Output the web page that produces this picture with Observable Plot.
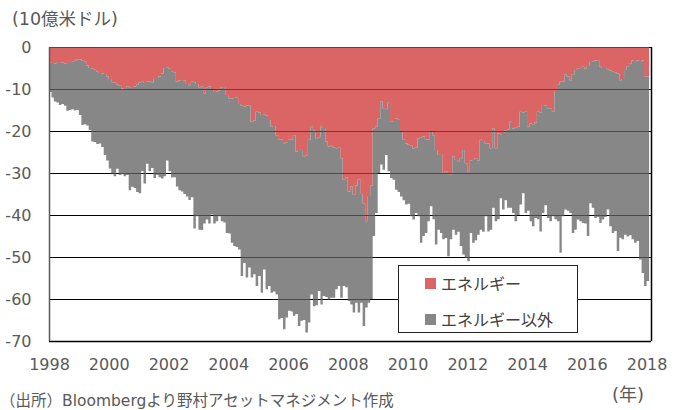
<!DOCTYPE html>
<html>
<head>
<meta charset="utf-8">
<script src="https://cdn.jsdelivr.net/npm/d3@7"></script>
<script src="https://cdn.jsdelivr.net/npm/@observablehq/plot@0.6"></script>
<style>
  html, body { margin: 0; padding: 0; background: #fff; }
  #wrap { position: relative; width: 677px; height: 410px; overflow: hidden;
          font-family: "DejaVu Sans", "Noto Sans CJK JP", sans-serif; color: #595959; }
  #wrap svg { position: absolute; left: 0; top: 0; }
  .lbl { position: absolute; white-space: nowrap; line-height: 20px; font-size: 16px; }
  #legend { position: absolute; left: 398px; top: 265px; width: 180px; height: 68px;
            border: 1px solid #222; background: #fff; box-sizing: border-box; }
  .sw { position: absolute; width: 11px; height: 11px; }
  .lt { position: absolute; font-family: "Noto Sans CJK JP", sans-serif; font-size: 16px; line-height: 20px; color: #404040; white-space: nowrap; }
</style>
</head>
<body>
<div id="wrap"></div>
<script>
// ---- data (units: 10 billion USD), monthly Jan 1998 .. Jan 2018 ----
const seriesNames = ["エネルギー", "エネルギー以外"];
const seriesColors = ["#db6464", "#878787"];
const unitLabel = "(10億米ドル)";
const yearLabel = "(年)";
const sourceLabel = "（出所）Bloombergより野村アセットマネジメント作成";
const yTicks = [0, -10, -20, -30, -40, -50, -60, -70];
const xTickYears = [1998, 2000, 2002, 2004, 2006, 2008, 2010, 2012, 2014, 2016, 2018];

// energy balance (top of grey = bottom of red)
const energy = [
  -3.7, -3.8, -3.9, -3.6, -3.8, -3.7, -3.9, -3.8, -3.6, -3.5,
  -3.3, -2.9, -3.0, -3.3, -3.4, -4.4, -5.0, -5.2, -5.4, -5.9,
  -6.2, -6.3, -6.4, -7.0, -7.6, -8.4, -8.5, -9.0, -9.2, -9.9,
  -10.0, -9.4, -9.6, -9.5, -9.4, -9.0, -8.4, -8.3, -8.6, -8.3,
  -8.2, -8.4, -7.6, -7.4, -7.0, -6.3, -5.0, -4.8, -5.2, -5.9,
  -6.0, -8.2, -7.9, -8.1, -8.0, -8.8, -9.1, -8.3, -8.4, -8.8,
  -9.6, -9.4, -11.0, -9.6, -9.4, -10.2, -10.7, -10.6, -10.3, -9.6,
  -9.5, -11.4, -12.2, -12.3, -11.9, -12.1, -13.6, -13.9, -14.2, -13.9,
  -14.0, -17.8, -17.5, -15.4, -15.6, -16.2, -16.0, -16.3, -17.4, -19.0,
  -18.8, -21.0, -22.1, -22.0, -22.9, -22.7, -22.1, -22.0, -21.0, -24.9,
  -24.5, -24.3, -26.0, -25.8, -22.1, -19.0, -19.8, -21.7, -21.5, -19.0,
  -19.3, -22.5, -23.7, -23.5, -23.9, -24.1, -24.0, -26.5, -31.6, -31.0,
  -34.4, -33.2, -35.2, -33.0, -31.5, -35.0, -37.2, -41.5, -35.5, -33.0,
  -19.4, -19.0, -17.0, -13.0, -14.6, -14.8, -13.3, -17.8, -17.6, -17.0,
  -17.2, -20.2, -22.1, -23.0, -23.3, -23.5, -24.1, -24.0, -21.7, -21.5,
  -21.3, -22.1, -22.0, -20.2, -21.0, -24.5, -25.7, -25.5, -30.0, -29.6,
  -30.0, -30.4, -26.0, -26.9, -27.2, -26.5, -24.5, -27.7, -29.6, -27.0,
  -26.9, -26.5, -27.0, -22.1, -22.4, -22.9, -23.0, -24.1, -19.4, -24.1,
  -20.6, -20.8, -20.5, -19.8, -19.6, -17.8, -19.4, -19.2, -19.0, -15.4,
  -15.6, -15.4, -19.0, -18.2, -18.4, -18.0, -15.4, -15.6, -13.8, -13.9,
  -14.6, -14.6, -15.4, -10.5, -9.0, -8.3, -8.2, -6.5, -7.0, -7.9,
  -6.5, -5.5, -5.2, -5.0, -4.7, -5.1, -4.5, -3.6, -3.5, -3.2,
  -3.3, -4.7, -5.0, -5.0, -5.3, -5.6, -5.9, -6.0, -6.3, -7.9,
  -7.6, -5.5, -4.6, -4.0, -3.2, -3.6, -3.2, -3.6, -3.2, -7.1, -7.0
];

// total goods balance (bottom of grey)
const total = [
  -10.7, -12.0, -13.0, -13.2, -13.8, -13.6, -14.0, -15.2, -15.0, -14.8,
  -15.1, -15.0, -16.2, -18.6, -18.4, -18.7, -19.8, -22.5, -22.6, -23.1,
  -23.0, -23.8, -25.7, -27.0, -28.9, -30.1, -30.8, -29.0, -30.5, -30.3,
  -30.8, -30.5, -34.1, -33.3, -33.6, -34.5, -34.8, -29.5, -32.5, -27.8,
  -29.5, -28.8, -31.2, -30.5, -31.0, -31.3, -30.8, -27.0, -29.6, -31.1,
  -31.0, -33.2, -34.1, -34.4, -35.0, -35.6, -36.4, -35.8, -43.2, -40.3,
  -43.5, -43.6, -42.0, -41.1, -42.0, -39.9, -42.0, -41.5, -40.3, -41.5,
  -41.8, -44.3, -44.4, -46.6, -47.4, -47.6, -48.2, -54.5, -51.4, -54.9,
  -52.5, -54.9, -54.1, -56.9, -54.5, -58.5, -53.0, -57.7, -56.9, -58.5,
  -58.2, -58.9, -64.8, -64.5, -67.2, -64.4, -62.8, -63.0, -64.0, -63.6,
  -66.4, -65.2, -65.0, -68.0, -65.6, -58.9, -61.7, -61.5, -58.1, -61.3,
  -59.3, -59.5, -60.1, -59.7, -59.7, -57.7, -56.9, -59.7, -56.9, -57.2,
  -60.5, -61.3, -63.2, -60.9, -63.2, -60.9, -66.4, -62.0, -60.9, -60.0,
  -45.0, -39.5, -30.0, -28.0, -29.2, -25.7, -29.6, -31.2, -31.6, -34.0,
  -34.5, -35.6, -36.5, -37.5, -37.3, -40.3, -41.1, -39.5, -40.3, -46.6,
  -45.0, -44.3, -41.5, -37.9, -41.0, -47.0, -43.5, -44.3, -45.8, -45.5,
  -49.8, -45.8, -43.5, -44.7, -44.0, -47.4, -49.4, -50.2, -51.0, -44.3,
  -46.6, -46.0, -44.7, -43.5, -44.0, -40.3, -43.9, -43.5, -38.3, -41.5,
  -41.0, -36.0, -38.7, -36.5, -38.3, -38.3, -39.5, -41.5, -40.0, -37.5,
  -34.8, -39.5, -39.0, -41.5, -42.7, -40.7, -41.0, -43.9, -39.5, -37.7,
  -40.7, -41.5, -40.3, -41.0, -41.5, -49.0, -40.3, -38.7, -39.0, -39.5,
  -44.3, -43.5, -41.1, -41.5, -41.9, -42.0, -45.0, -37.2, -38.3, -40.7,
  -40.5, -41.9, -41.1, -40.5, -38.7, -42.7, -44.3, -43.8, -48.6, -45.4,
  -45.8, -44.7, -45.1, -44.8, -45.8, -46.6, -46.2, -50.6, -53.8, -56.9, -55.7
];

// ---- build table ----
const monthDate = i => new Date(Date.UTC(1998, i, 1));
const rows = [];
for (let i = 0; i <= energy.length; i++) {
  const k = Math.min(i, energy.length - 1); // last row only closes the final step
  rows.push({date: monthDate(i), series: seriesNames[0], value: energy[k]});
  rows.push({date: monthDate(i), series: seriesNames[1], value: total[k] - energy[k]});
}
const xStart = new Date(Date.UTC(1998, 0, 1));
const xEnd = new Date(Date.UTC(2018, 1, 24));
const xTicks = xTickYears.map(y => new Date(Date.UTC(y, 0, 1)));

const chart = Plot.plot({
  width: 677,
  height: 410,
  marginLeft: 49,
  marginRight: 26,
  marginTop: 47,
  marginBottom: 69,
  style: {fontFamily: "DejaVu Sans, Noto Sans CJK JP, sans-serif", fontSize: "16px", color: "#595959", background: "transparent"},
  x: {type: "utc", domain: [xStart, xEnd]},
  y: {domain: [-70, 0]},
  color: {domain: seriesNames, range: seriesColors},
  marks: [
    Plot.ruleY(yTicks, {stroke: "#000", strokeWidth: 1}),
    Plot.areaY(rows, {x: "date", y: "value", z: "series", fill: "series", curve: "step-after"}),
    Plot.ruleY(yTicks, {stroke: "#000", strokeOpacity: 0.45, strokeWidth: 1}),
    Plot.ruleY([-70], {stroke: "#000", strokeWidth: 1.5}),
    Plot.ruleX([xStart], {stroke: "#595959", strokeWidth: 1.5}),
    Plot.ruleX([xEnd], {stroke: "#000", strokeWidth: 1.5}),
    Plot.axisY({ticks: yTicks, tickSize: 0, tickPadding: 18, tickFormat: d => String(d), label: null, fill: "#595959"}),
    Plot.axisX({ticks: xTicks, tickSize: 0, tickPadding: 17, tickFormat: d3.utcFormat("%Y"), label: null, fill: "#595959"})
  ]
});

const wrap = document.getElementById("wrap");
wrap.appendChild(chart);

function addLabel(text, left, top, size) {
  const d = document.createElement("div");
  d.className = "lbl";
  d.textContent = text;
  d.style.left = left + "px";
  d.style.top = top + "px";
  d.style.fontSize = size + "px";
  wrap.appendChild(d);
}
addLabel(unitLabel, 12, 9, 17.5);
addLabel(yearLabel, 612, 385, 18);
addLabel(sourceLabel, 0, 391, 15.5);

const legend = document.createElement("div");
legend.id = "legend";
wrap.appendChild(legend);
seriesNames.forEach((name, i) => {
  const sw = document.createElement("div");
  sw.className = "sw";
  sw.style.background = seriesColors[i];
  sw.style.left = "26px";
  sw.style.top = (12 + i * 36) + "px";
  legend.appendChild(sw);
  const t = document.createElement("div");
  t.className = "lt";
  t.textContent = name;
  t.style.left = "42px";
  t.style.top = (7 + i * 36) + "px";
  legend.appendChild(t);
});
</script>
</body>
</html>
